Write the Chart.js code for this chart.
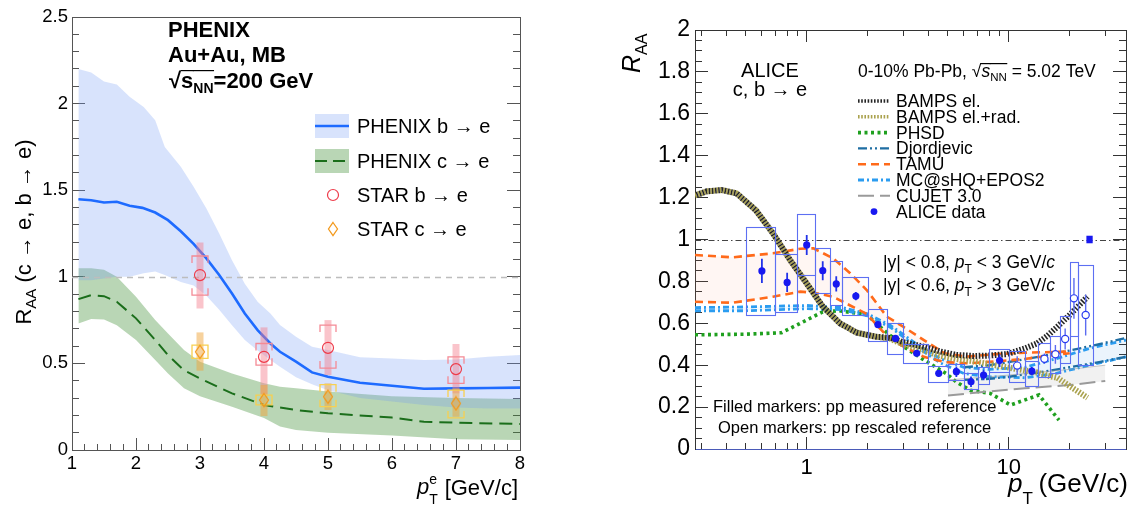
<!DOCTYPE html>
<html><head><meta charset="utf-8"><title>RAA heavy-flavour electrons</title>
<script src="https://cdn.jsdelivr.net/npm/chart.js@4.4.1/dist/chart.umd.min.js"></script>
<style>
html,body{margin:0;padding:0;background:#fff;overflow:hidden}
canvas{position:absolute;top:0}
#cl{left:0}
#cr{left:560px}
</style></head><body>
<canvas id="cl" width="560" height="508"></canvas><canvas id="cr" width="573" height="508"></canvas>
<script>
const FF = '"Liberation Sans", Arial, Helvetica, sans-serif';
const OX = 560;

// ---------------- LEFT PANEL DATA (PHENIX / STAR) ----------------
const leftXTicks = [1,2,3,4,5,6,7,8];
const leftYTicks = [0,0.5,1,1.5,2,2.5];

const phxBandX  = [1.1,1.3,1.5,1.7,1.9,2.12,2.3,2.45,2.7,2.9,3.1,3.3,3.5,3.7,3.9,4.1,4.25,4.5,4.75,5,5.5,6,6.5,7,7.5,8];
const phxBUpper = [2.2,2.18,2.127,2.11,2.04,1.98,1.904,1.75,1.635,1.52,1.394,1.25,1.096,0.96,0.856,0.788,0.721,0.654,0.596,0.577,0.535,0.529,0.519,0.523,0.538,0.548];
const phxBLower = [0.98,0.98,0.99,1.0,1.0,1.02,1.03,1.01,0.97,0.95,0.89,0.81,0.72,0.635,0.575,0.52,0.48,0.42,0.38,0.345,0.30,0.28,0.26,0.245,0.24,0.24];
const phxBX = [1.1,1.3,1.5,1.7,1.9,2.1,2.3,2.5,2.7,2.9,3.1,3.3,3.5,3.7,3.9,4.1,4.25,4.5,4.75,5,5.5,6,6.5,7,7.5,8];
const phxBY = [1.448,1.442,1.429,1.433,1.41,1.398,1.371,1.327,1.263,1.19,1.106,1.01,0.904,0.788,0.692,0.615,0.567,0.51,0.448,0.423,0.388,0.371,0.354,0.356,0.358,0.36];

const phxCBandX = [1.1,1.3,1.5,1.7,2.0,2.3,2.5,2.75,3.0,3.5,4.0,4.25,4.5,5,6,7,8];
const phxCUpper = [1.05,1.05,1.04,1.0,0.885,0.75,0.673,0.577,0.51,0.442,0.385,0.365,0.356,0.338,0.31,0.30,0.295];
const phxCLower = [0.73,0.756,0.754,0.72,0.635,0.52,0.442,0.356,0.31,0.25,0.185,0.135,0.115,0.10,0.083,0.062,0.058];
const phxCX = [1.1,1.3,1.5,1.7,2.0,2.3,2.5,2.75,3.0,3.5,4.0,4.5,5,6,6.5,7,8];
const phxCY = [0.871,0.894,0.888,0.856,0.76,0.635,0.548,0.46,0.413,0.327,0.26,0.231,0.212,0.187,0.163,0.158,0.15];

const starX = [3,4,5,7];
const starBY = [1.01,0.538,0.59,0.467];
const starBBarLo = [0.817,0.32,0.433,0.327];
const starBBarHi = [1.198,0.708,0.75,0.612];
const starBSysLo = [0.894,0.49,0.473,0.385];
const starBSysHi = [1.12,0.615,0.721,0.538];
const starCY = [0.567,0.288,0.308,0.269];
const starCBarLo = [0.458,0.196,0.231,0.192];
const starCBarHi = [0.679,0.375,0.385,0.356];
const starCSysLo = [0.529,0.26,0.25,0.185];
const starCSysHi = [0.606,0.317,0.377,0.346];

const leftLegend = ['PHENIX b \u2192 e','PHENIX c \u2192 e','STAR b \u2192 e','STAR c \u2192 e'];

// ---------------- RIGHT PANEL DATA (ALICE + models) ----------------
const rightXTicks = [1,10];
const rightXMinor = [0.3,0.4,0.5,0.6,0.7,0.8,0.9,2,3,4,5,6,7,8,9,20,30];
const rightYTicks = [0,0.2,0.4,0.6,0.8,1,1.2,1.4,1.6,1.8,2];

const bampsX = [0.28,0.32,0.38,0.45,0.56,0.68,0.83,1.0,1.2,1.46,1.77,2.2,2.6,3.0,3.8,4.6,5.5,6.7,8,9.8,12,13.8,15.5,17.4,20,24.5];
const bampsElY  = [1.21,1.23,1.236,1.22,1.14,1.03,0.90,0.79,0.68,0.60,0.555,0.536,0.53,0.51,0.488,0.465,0.449,0.444,0.446,0.453,0.48,0.504,0.54,0.584,0.64,0.727];
const bampsRadY = [1.21,1.23,1.236,1.22,1.14,1.03,0.90,0.79,0.68,0.60,0.555,0.536,0.525,0.50,0.47,0.445,0.43,0.418,0.405,0.39,0.375,0.365,0.35,0.34,0.30,0.245];
const phsdX = [0.28,0.5,0.75,0.93,1.2,1.45,2.0,2.2,3.0,3.8,4.9,5.5,6.45,8.1,10.2,14.1,17.7];
const phsdY = [0.545,0.548,0.555,0.60,0.655,0.66,0.64,0.60,0.49,0.425,0.36,0.32,0.28,0.265,0.21,0.258,0.138];
const tamuX  = [0.28,0.43,0.68,0.93,1.08,1.35,1.64,1.98,2.49,3.0,3.8,4.8,6.2,8.7,12,15,20];
const tamuUp = [0.926,0.915,0.934,0.956,0.958,0.91,0.839,0.759,0.632,0.584,0.52,0.457,0.441,0.453,0.46,0.462,0.465];
const tamuLo = [0.703,0.698,0.727,0.751,0.746,0.727,0.685,0.645,0.54,0.49,0.44,0.415,0.409,0.418,0.43,0.443,0.457];
const mcX  = [0.28,0.5,1.0,1.5,2.0,2.6,3.5,4.6,6,8,12,17,25,38];
const mcUp = [0.675,0.678,0.685,0.675,0.645,0.59,0.50,0.43,0.39,0.38,0.39,0.43,0.48,0.52];
const mcLo = [0.66,0.66,0.67,0.665,0.635,0.58,0.488,0.41,0.36,0.345,0.34,0.36,0.40,0.44];
const djX  = [6,8,10,14,20,28,38];
const djUp = [0.39,0.40,0.415,0.44,0.47,0.50,0.53];
const djLo = [0.33,0.335,0.345,0.365,0.39,0.415,0.44];
const cujetX  = [5,8,12,20,30];
const cujetUp = [0.33,0.345,0.36,0.38,0.40];
const cujetLo = [0.255,0.275,0.29,0.305,0.325];

const aliceX    = [0.6,0.8,1.0,1.2,1.4,1.75,2.25,2.75,3.5,4.5,5.5,6.5,7.5,9,13];
const aliceY    = [0.85,0.795,0.974,0.851,0.788,0.73,0.594,0.528,0.457,0.361,0.369,0.321,0.353,0.422,0.372];
const aliceStat = [0.058,0.046,0.048,0.045,0.036,0.02,0.015,0.015,0.015,0.015,0.025,0.025,0.025,0.03,0.02];
const aliceBinLo = [0.5,0.7,0.9,1.1,1.3,1.5,2.0,2.5,3,4,5,6,7,8,12];
const aliceBinHi = [0.7,0.9,1.1,1.3,1.5,2.0,2.5,3,4,5,6,7,8,10,14];
const aliceSysLo = [0.641,0.655,0.829,0.743,0.689,0.638,0.516,0.453,0.409,0.321,0.329,0.286,0.309,0.366,0.30];
const aliceSysHi = [1.058,0.931,1.12,0.961,0.897,0.82,0.668,0.60,0.501,0.396,0.406,0.361,0.393,0.476,0.42];
const openX    = [11,15,17,19,21,24];
const openY    = [0.398,0.431,0.452,0.525,0.719,0.64];
const openStat = [0.045,0.025,0.045,0.05,0.097,0.098];
const openBinLo = [10,14,16,18,20,22];
const openBinHi = [12,16,18,20,22,26];
const openSysLo = [0.321,0.345,0.364,0.409,0.539,0.401];
const openSysHi = [0.469,0.507,0.539,0.635,0.894,0.878];
const normBoxX = [24.2,26];
const normBoxY = [0.982,1.018];

const rightLegend = ['BAMPS el.','BAMPS el.+rad.','PHSD','Djordjevic','TAMU','MC@sHQ+EPOS2','CUJET 3.0','ALICE data'];

// ---------------- helpers ----------------
const pts = (xs, ys) => xs.map((x, i) => ({x: x, y: ys[i]}));
const F = (s, st) => (st ? st + ' ' : '') + s + 'px ' + FF;
const minorsLin = (a, b, step, major) => { const r = []; const n = Math.round((b - a) / step); for (let k = 0; k <= n; k++) { const v = +(a + k * step).toFixed(4); if (!major.some(m => Math.abs(m - v) < 1e-6)) r.push(v); } return r; };
const leftXMinor = minorsLin(1, 8, 0.2, leftXTicks);
const leftYMinor = minorsLin(0, 2.5, 0.1, leftYTicks);
const rightYMinor = minorsLin(0, 2, 0.05, rightYTicks);

function rich(ctx, x, y, parts, o) {
  o = o || {};
  ctx.save();
  ctx.translate(x, y);
  if (o.rot) ctx.rotate(o.rot);
  let w = 0;
  const ws = parts.map(p => { ctx.font = p.f; const m = ctx.measureText(p.t).width; if (!p.noadv) w += m; return m; });
  let cx = o.align === 'center' ? -w / 2 : (o.align === 'right' ? -w : 0);
  ctx.textAlign = 'left'; ctx.textBaseline = 'alphabetic';
  parts.forEach((p, i) => {
    ctx.font = p.f; ctx.fillStyle = p.c || o.color || '#000';
    ctx.fillText(p.t, cx, p.dy || 0);
    if (p.ol !== undefined) ctx.fillRect(cx - 0.5, p.ol, ws[i] + 1, 1.2);
    if (!p.noadv) cx += ws[i];
  });
  ctx.restore();
}

function bracket(ctx, cx, yt, yb, hw, color) {
  const leg = Math.min(7, (yb - yt) / 2);
  ctx.save(); ctx.strokeStyle = color; ctx.lineWidth = 1.3; ctx.setLineDash([]);
  ctx.beginPath();
  ctx.moveTo(cx - hw, yt + leg); ctx.lineTo(cx - hw, yt); ctx.lineTo(cx + hw, yt); ctx.lineTo(cx + hw, yt + leg);
  ctx.moveTo(cx - hw, yb - leg); ctx.lineTo(cx - hw, yb); ctx.lineTo(cx + hw, yb); ctx.lineTo(cx + hw, yb - leg);
  ctx.stroke(); ctx.restore();
}

function diamondImg(color) {
  const c = document.createElement('canvas'); c.width = 12; c.height = 16;
  const g = c.getContext('2d'); g.strokeStyle = color; g.lineWidth = 1.3;
  g.beginPath(); g.moveTo(6, 1.5); g.lineTo(10.5, 8); g.lineTo(6, 14.5); g.lineTo(1.5, 8); g.closePath(); g.stroke();
  return c;
}

// ---- scale builders: frame + inward ticks drawn by Chart.js itself (label-less, zero-size axes) ----
const tickGrid = (len, color) => ({display: true, drawOnChartArea: false, drawTicks: true, tickLength: -len, color: color, tickColor: color, lineWidth: 1, tickWidth: 1});
const setTicks = arr => (s => { s.ticks = arr.map(v => ({value: v})); });
function axis(type, min, max, position, weight, tickVals, len, color, borderColor) {
  return {
    type: type, min: min, max: max, position: position, weight: weight,
    afterBuildTicks: setTicks(tickVals),
    ticks: {display: false},
    grid: len > 0 ? tickGrid(len, color) : {display: true, drawOnChartArea: false, drawTicks: false, color: color},
    border: borderColor ? {display: true, color: borderColor, width: 1} : {display: false},
    afterFit: (position === 'left' || position === 'right') ? (s => { s.width = 0; }) : (s => { s.height = 0; })
  };
}
// label-only axes (no grid, no border, no tick marks)
function labelAxis(type, min, max, position, tickVals, size, pad, fit) {
  return {
    type: type, min: min, max: max, position: position, weight: 1,
    afterBuildTicks: setTicks(tickVals),
    ticks: {callback: v => String(v), font: {family: FF, size: size}, color: '#000', padding: pad, maxRotation: 0, autoSkip: false},
    grid: {display: false, drawTicks: false}, border: {display: false},
    afterFit: fit
  };
}

const BLUE_FILL = 'rgba(110,150,245,0.27)';
const GREEN_FILL = 'rgba(60,140,50,0.36)';
const RED = '#ee3b4a';
const ORANGE = '#f39a1e';
const DIAMOND = diamondImg(ORANGE);
const bindXY = arr => arr.map(d => Object.assign(d, {xAxisID: 'x', yAxisID: 'y'}));

// ---------------- LEFT CHART ----------------
const leftPlugin = {
  id: 'leftDeco',
  beforeDatasetDraw(chart, args) {
    const {ctx, chartArea: a, scales: {x, y}} = chart;
    if (args.index === 5) {
      const p = Math.round(y.getPixelForValue(1)) + 0.5;
      ctx.save(); ctx.strokeStyle = '#bdbdbd'; ctx.lineWidth = 1.4; ctx.setLineDash([6, 5]);
      ctx.beginPath(); ctx.moveTo(a.left, p); ctx.lineTo(a.right, p); ctx.stroke(); ctx.restore();
    }
    if (args.index === 6) {
      ctx.save();
      starX.forEach((v, i) => {
        const px = x.getPixelForValue(v);
        ctx.fillStyle = 'rgba(245,125,140,0.45)';
        const t = y.getPixelForValue(starBBarHi[i]), b = y.getPixelForValue(starBBarLo[i]);
        ctx.fillRect(px - 3.5, t, 7, b - t);
        bracket(ctx, px, y.getPixelForValue(starBSysHi[i]), y.getPixelForValue(starBSysLo[i]), 8, '#f48a95');
      });
      starX.forEach((v, i) => {
        const px = x.getPixelForValue(v);
        ctx.fillStyle = 'rgba(240,165,60,0.5)';
        const t = y.getPixelForValue(starCBarHi[i]), b = y.getPixelForValue(starCBarLo[i]);
        ctx.fillRect(px - 3.5, t, 7, b - t);
        bracket(ctx, px, y.getPixelForValue(starCSysHi[i]), y.getPixelForValue(starCSysLo[i]), 8, '#f8d050');
      });
      ctx.restore();
    }
  },
  afterDraw(chart) {
    const ctx = chart.ctx;
    rich(ctx, 168, 37, [{t: 'PHENIX', f: F(22, 'bold')}]);
    rich(ctx, 168, 62, [{t: 'Au+Au, MB', f: F(22, 'bold')}]);
    rich(ctx, 169, 88, [{t: '\u221A', f: F(22, 'bold')}, {t: 's', f: F(22, 'bold'), ol: -18}, {t: 'NN', f: F(14, 'bold'), dy: 5, ol: -18}, {t: '=200 GeV', f: F(22, 'bold')}]);
    ctx.save();
    ctx.fillStyle = BLUE_FILL; ctx.fillRect(315, 114, 34, 24);
    ctx.strokeStyle = '#1e6bff'; ctx.lineWidth = 2.6; ctx.beginPath(); ctx.moveTo(315, 126); ctx.lineTo(349, 126); ctx.stroke();
    ctx.fillStyle = GREEN_FILL; ctx.fillRect(315, 149, 34, 24);
    ctx.strokeStyle = '#1b6e1b'; ctx.lineWidth = 2; ctx.setLineDash([12, 6]); ctx.beginPath(); ctx.moveTo(315, 161); ctx.lineTo(349, 161); ctx.stroke();
    ctx.setLineDash([]);
    ctx.strokeStyle = RED; ctx.lineWidth = 1.2; ctx.beginPath(); ctx.arc(333, 195, 5.5, 0, Math.PI * 2); ctx.stroke();
    ctx.drawImage(DIAMOND, 327, 221);
    ctx.restore();
    const ly = [133, 168, 202, 236];
    leftLegend.forEach((t, i) => rich(ctx, 357, ly[i], [{t: t, f: F(20)}]));
    rich(ctx, 31, 232, [{t: 'R', f: F(22)}, {t: 'AA', f: F(15), dy: 5}, {t: ' (c \u2192 e, b \u2192 e)', f: F(22)}], {rot: -Math.PI / 2, align: 'center'});
    rich(ctx, 417, 494, [{t: 'p', f: F(22, 'italic')}, {t: 'e', f: F(14), dy: -10, noadv: true}, {t: 'T', f: F(14), dy: 10}]);
    rich(ctx, 518, 495, [{t: '[GeV/c]', f: F(22)}], {align: 'right'});
  }
};

const LC = '#555';
new Chart(document.getElementById('cl'), {
  type: 'line',
  data: {datasets: bindXY([
    {data: pts(phxBandX, phxBUpper), borderWidth: 0, pointRadius: 0, fill: 1, backgroundColor: BLUE_FILL, order: 10},
    {data: pts(phxBandX, phxBLower), borderWidth: 0, pointRadius: 0, fill: false, order: 10},
    {data: pts(phxCBandX, phxCUpper), borderWidth: 0, pointRadius: 0, fill: 3, backgroundColor: GREEN_FILL, order: 10},
    {data: pts(phxCBandX, phxCLower), borderWidth: 0, pointRadius: 0, fill: false, order: 10},
    {data: pts(phxBX, phxBY), borderColor: '#1e6bff', borderWidth: 2.6, pointRadius: 0, fill: false, order: 5},
    {data: pts(phxCX, phxCY), borderColor: '#1b6e1b', borderWidth: 2, borderDash: [13, 7], pointRadius: 0, fill: false, order: 5},
    {data: pts(starX, starBY), showLine: false, pointStyle: 'circle', pointRadius: 5.5, pointBorderColor: RED, pointBackgroundColor: 'rgba(0,0,0,0)', pointBorderWidth: 1.2, order: 1},
    {data: pts(starX, starCY), showLine: false, pointStyle: DIAMOND, pointRadius: 7, order: 0}
  ])},
  options: {
    responsive: false, animation: false, devicePixelRatio: 1,
    layout: {padding: {left: 0, right: 40, top: 17, bottom: 0}, autoPadding: false},
    elements: {line: {tension: 0}},
    plugins: {legend: {display: false}, tooltip: {enabled: false}, filler: {drawTime: 'beforeDatasetsDraw'}},
    scales: {
      x: labelAxis('linear', 1, 8, 'bottom', leftXTicks, 18.5, 3, s => { s.height = 58; }),
      xM: axis('linear', 1, 8, 'bottom', 0, leftXTicks, 12, LC, LC),
      xm: axis('linear', 1, 8, 'bottom', 0, leftXMinor, 6, LC, null),
      xt: axis('linear', 1, 8, 'top', 0, leftXTicks, 0, LC, LC),
      y: labelAxis('linear', 0, 2.5, 'left', leftYTicks, 18.5, 4, s => { s.width = 72; }),
      yM: axis('linear', 0, 2.5, 'left', 0, leftYTicks, 13, LC, LC),
      ym: axis('linear', 0, 2.5, 'left', 0, leftYMinor, 7, LC, null),
      y2: axis('linear', 0, 2.5, 'right', 1, leftYTicks, 13, LC, LC),
      y2m: axis('linear', 0, 2.5, 'right', 0, leftYMinor, 7, LC, null)
    }
  },
  plugins: [leftPlugin]
});

// ---------------- RIGHT CHART ----------------
const STY = {
  bampsEl: {c: '#262626', w: 6, d: [1.6, 1.6], off: 1.6},
  bampsRad: {c: '#aaa24e', w: 6, d: [1.6, 1.6], off: 0},
  phsd: {c: '#1fa01f', w: 3.6, d: [3, 3.5]},
  dj: {c: '#1f6ea3', w: 2.4, d: [9, 3, 2, 3, 2, 3]},
  tamu: {c: '#ff6a1a', w: 2.6, d: [8, 5]},
  mc: {c: '#2b9cf0', w: 2.8, d: [6, 3, 2, 3]},
  cujet: {c: '#9a9a9a', w: 2, d: [16, 6]}
};
const ln = (xs, ys, s, extra) => Object.assign({data: pts(xs, ys), borderColor: s.c, borderWidth: s.w, borderDash: s.d, borderDashOffset: s.off || 0, borderCapStyle: 'butt', pointRadius: 0, fill: false, order: 5}, extra || {});

const rightPlugin = {
  id: 'rightDeco',
  beforeDatasetsDraw(chart) {
    const {ctx, chartArea: a, scales: {y}} = chart;
    const p = Math.round(y.getPixelForValue(1)) + 0.5;
    ctx.save(); ctx.strokeStyle = '#444'; ctx.lineWidth = 1; ctx.setLineDash([6, 3, 1.5, 3]);
    ctx.beginPath(); ctx.moveTo(a.left, p); ctx.lineTo(a.right, p); ctx.stroke(); ctx.restore();
  },
  beforeDatasetDraw(chart, args) {
    if (args.index !== 11) return;
    const {ctx, scales: {x, y}} = chart;
    ctx.save();
    ctx.setLineDash([]);
    ctx.strokeStyle = '#5d6ff2'; ctx.lineWidth = 1.1;
    const box = (lo, hi, ylo, yhi) => {
      const x1 = Math.round(x.getPixelForValue(lo)) + 0.5, x2 = Math.round(x.getPixelForValue(hi)) + 0.5;
      const y1 = Math.round(y.getPixelForValue(yhi)) + 0.5, y2 = Math.round(y.getPixelForValue(ylo)) + 0.5;
      ctx.strokeRect(x1, y1, x2 - x1, y2 - y1);
    };
    aliceX.forEach((v, i) => box(aliceBinLo[i], aliceBinHi[i], aliceSysLo[i], aliceSysHi[i]));
    openX.forEach((v, i) => box(openBinLo[i], openBinHi[i], openSysLo[i], openSysHi[i]));
    ctx.strokeStyle = '#2233e8'; ctx.lineWidth = 1.8;
    ctx.beginPath();
    aliceX.forEach((v, i) => { const px = x.getPixelForValue(v); ctx.moveTo(px, y.getPixelForValue(aliceY[i] + aliceStat[i])); ctx.lineTo(px, y.getPixelForValue(aliceY[i] - aliceStat[i])); });
    ctx.stroke();
    ctx.strokeStyle = '#5c6cf0'; ctx.lineWidth = 1.4;
    ctx.beginPath();
    openX.forEach((v, i) => { const px = x.getPixelForValue(v); ctx.moveTo(px, y.getPixelForValue(openY[i] + openStat[i])); ctx.lineTo(px, y.getPixelForValue(openY[i] - openStat[i])); });
    ctx.stroke();
    ctx.fillStyle = '#1818f0';
    const nx1 = x.getPixelForValue(normBoxX[0]), nx2 = x.getPixelForValue(normBoxX[1]);
    const ny1 = y.getPixelForValue(normBoxY[1]), ny2 = y.getPixelForValue(normBoxY[0]);
    ctx.fillRect(nx1, ny1, nx2 - nx1, ny2 - ny1);
    ctx.restore();
  },
  afterDraw(chart) {
    const ctx = chart.ctx;
    rich(ctx, 770 - OX, 77, [{t: 'ALICE', f: F(20)}], {align: 'center'});
    rich(ctx, 770 - OX, 96, [{t: 'c, b \u2192 e', f: F(20)}], {align: 'center'});
    rich(ctx, 858 - OX, 77, [{t: '0-10% Pb-Pb, ', f: F(17.5)}, {t: '\u221A', f: F(17.5)}, {t: 's', f: F(17.5, 'italic'), ol: -14}, {t: 'NN', f: F(11.5), dy: 4, ol: -14}, {t: ' = 5.02 TeV', f: F(17.5)}]);
    const x1 = 858 - OX, x2 = 890 - OX;
    const styles = [STY.bampsEl, STY.bampsRad, STY.phsd, STY.dj, STY.tamu, STY.mc, STY.cujet];
    rightLegend.forEach((t, i) => {
      const ry = 101 + 15.8 * i;
      ctx.save();
      if (i < 7) {
        const s = styles[i];
        ctx.strokeStyle = s.c; ctx.lineWidth = Math.min(s.w, 3.6); ctx.setLineDash(s.d); ctx.lineCap = 'butt';
        ctx.beginPath(); ctx.moveTo(x1, ry); ctx.lineTo(x2, ry); ctx.stroke();
      } else {
        ctx.fillStyle = '#1818f0'; ctx.beginPath(); ctx.arc((x1 + x2) / 2, ry, 3.4, 0, Math.PI * 2); ctx.fill();
      }
      ctx.restore();
      rich(ctx, 896 - OX, ry + 6, [{t: t, f: F(17.5)}]);
    });
    rich(ctx, 883 - OX, 268, [{t: '|y| < 0.8, ', f: F(17.5)}, {t: 'p', f: F(17.5, 'italic')}, {t: 'T', f: F(12), dy: 5}, {t: ' < 3 GeV/', f: F(17.5)}, {t: 'c', f: F(17.5, 'italic')}]);
    rich(ctx, 883 - OX, 291, [{t: '|y| < 0.6, ', f: F(17.5)}, {t: 'p', f: F(17.5, 'italic')}, {t: 'T', f: F(12), dy: 5}, {t: ' > 3 GeV/', f: F(17.5)}, {t: 'c', f: F(17.5, 'italic')}]);
    rich(ctx, 713 - OX, 412, [{t: 'Filled markers: pp measured reference', f: F(16.5)}]);
    rich(ctx, 718 - OX, 433, [{t: 'Open markers: pp rescaled reference', f: F(16.5)}]);
    rich(ctx, 640 - OX, 73, [{t: 'R', f: F(25, 'italic')}, {t: 'AA', f: F(16), dy: 7}], {rot: -Math.PI / 2});
    rich(ctx, 1008 - OX, 492, [{t: 'p', f: F(26, 'italic')}, {t: 'T', f: F(17), dy: 12}]);
    rich(ctx, 1128 - OX, 492, [{t: '(GeV/c)', f: F(26)}], {align: 'right'});
  }
};

const RC = '#333';
new Chart(document.getElementById('cr'), {
  type: 'line',
  data: {datasets: bindXY([
    ln(tamuX, tamuUp, STY.tamu, {fill: 1, backgroundColor: 'rgba(255,150,120,0.09)'}),
    ln(tamuX, tamuLo, STY.tamu),
    {data: pts(cujetX, cujetUp), borderColor: 'rgba(150,150,150,0.55)', borderWidth: 1, pointRadius: 0, fill: 3, backgroundColor: 'rgba(170,170,170,0.16)', order: 5},
    ln(cujetX, cujetLo, STY.cujet),
    ln(djX, djUp, STY.dj, {fill: 5, backgroundColor: 'rgba(60,140,210,0.05)'}),
    ln(djX, djLo, STY.dj),
    ln(mcX, mcUp, STY.mc, {fill: 7, backgroundColor: 'rgba(60,160,240,0.05)'}),
    ln(mcX, mcLo, STY.mc),
    ln(phsdX, phsdY, STY.phsd),
    ln(bampsX, bampsRadY, STY.bampsRad, {order: 4}),
    ln(bampsX, bampsElY, STY.bampsEl, {order: 3}),
    {data: pts(aliceX, aliceY), showLine: false, pointStyle: 'circle', pointRadius: 3.6, pointBackgroundColor: '#1818f0', pointBorderColor: '#1818f0', pointBorderWidth: 0, order: 1},
    {data: pts(openX, openY), showLine: false, pointStyle: 'circle', pointRadius: 3.6, pointBackgroundColor: '#ffffff', pointBorderColor: '#2a3cf0', pointBorderWidth: 1.2, order: 0}
  ])},
  options: {
    responsive: false, animation: false, devicePixelRatio: 1,
    layout: {padding: {left: 0, right: 7, top: 30, bottom: 0}, autoPadding: false},
    elements: {line: {tension: 0}},
    plugins: {legend: {display: false}, tooltip: {enabled: false}, filler: {drawTime: 'beforeDatasetsDraw'}},
    scales: {
      x: labelAxis('logarithmic', 0.28, 38, 'bottom', rightXTicks, 22, 6, s => { s.height = 59; }),
      xM: axis('logarithmic', 0.28, 38, 'bottom', 0, rightXTicks, 12, RC, '#4a5ab8'),
      xm: axis('logarithmic', 0.28, 38, 'bottom', 0, rightXMinor, 6, RC, null),
      xt: axis('logarithmic', 0.28, 38, 'top', 1, rightXTicks, 12, RC, RC),
      xtm: axis('logarithmic', 0.28, 38, 'top', 0, rightXMinor, 6, RC, null),
      y: labelAxis('linear', 0, 2, 'left', rightYTicks, 23, 5, s => { s.width = 135; }),
      yM: axis('linear', 0, 2, 'left', 0, rightYTicks, 13, RC, RC),
      ym: axis('linear', 0, 2, 'left', 0, rightYMinor, 7, RC, null),
      y2: axis('linear', 0, 2, 'right', 1, rightYTicks, 13, RC, RC),
      y2m: axis('linear', 0, 2, 'right', 0, rightYMinor, 7, RC, null)
    }
  },
  plugins: [rightPlugin]
});
</script></body></html>
